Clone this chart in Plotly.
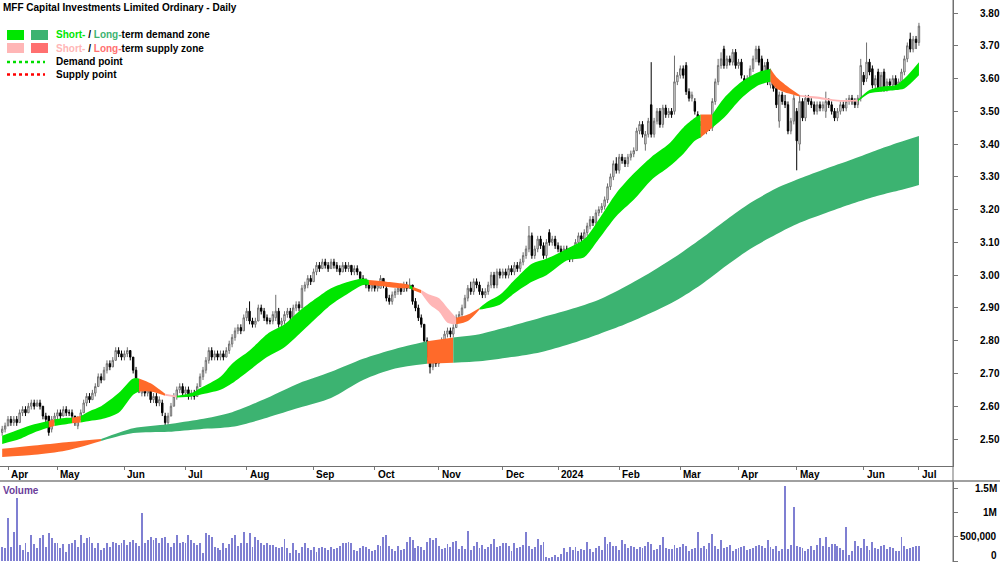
import pandas as pd
import plotly.graph_objects as go

# ---------------- trading calendar ----------------
holidays = ["2023-04-07", "2023-04-10", "2023-04-25", "2023-06-12", "2023-12-25",
            "2023-12-26", "2024-01-01", "2024-01-26", "2024-03-29", "2024-04-01",
            "2024-04-25", "2024-06-10"]
dates = pd.bdate_range("2023-03-30", "2024-07-01")
dates = dates[~dates.isin(pd.to_datetime(holidays))]
n = len(dates)
idx = list(range(n))

month_labels = ["Apr", "May", "Jun", "Jul", "Aug", "Sep", "Oct", "Nov", "Dec",
                "2024", "Feb", "Mar", "Apr", "May", "Jun", "Jul"]
month_idx = [k for k in range(1, n) if dates[k].month != dates[k - 1].month]

price_ticks = [2.5, 2.6, 2.7, 2.8, 2.9, 3.0, 3.1, 3.2, 3.3, 3.4, 3.5, 3.6, 3.7, 3.8]
vol_ticks = [0, 500000, 1000000, 1500000]
vol_tick_text = ["0", "500,000", "1M", "1.5M"]

# ---------------- OHLC ----------------
opens = [
 2.52,2.53,2.54,2.56,2.55,2.56,2.55,2.58,2.59,2.58, 2.60,2.61,2.60,2.61,2.60,2.57,2.57,2.53,2.56,2.57,
 2.58,2.57,2.59,2.58,2.58,2.57,2.54,2.56,2.58,2.61, 2.63,2.62,2.64,2.66,2.69,2.68,2.71,2.73,2.72,2.74,
 2.77,2.76,2.75,2.76,2.77,2.75,2.71,2.68,2.64,2.66, 2.64,2.65,2.62,2.63,2.61,2.61,2.57,2.55,2.57,2.60,
 2.63,2.65,2.66,2.64,2.65,2.63,2.64,2.63,2.66,2.69, 2.71,2.74,2.77,2.75,2.76,2.75,2.76,2.75,2.77,2.79,
 2.81,2.83,2.84,2.83,2.87,2.89,2.86,2.85,2.86,2.90, 2.89,2.87,2.86,2.86,2.87,2.89,2.85,2.86,2.88,2.89,
 2.87,2.90,2.91,2.90,2.96,2.97,2.99,2.98,3.01,3.03, 3.02,3.04,3.03,3.02,3.04,3.03,3.02,3.01,3.03,3.02,
 3.03,3.01,3.02,3.01,2.99,2.98,2.97,2.96,2.97,2.96, 2.96,2.99,2.96,2.93,2.92,2.94,2.95,2.96,2.95,2.97,
 2.96,2.97,2.92,2.90,2.87,2.85,2.80,2.75,2.72,2.74, 2.73,2.75,2.80,2.82,2.83,2.82,2.84,2.87,2.88,2.90,
 2.93,2.96,2.95,2.98,2.97,2.95,2.94,2.95,2.97,3.00, 2.97,3.01,3.00,3.01,3.00,3.02,3.01,3.03,3.02,3.04,
 3.06,3.08,3.12,3.06,3.08,3.11,3.09,3.06,3.13,3.10, 3.11,3.09,3.08,3.07,3.08,3.08,3.05,3.07,3.10,3.12,
 3.11,3.13,3.15,3.17,3.16,3.19,3.20,3.21,3.23,3.27, 3.30,3.34,3.32,3.36,3.35,3.34,3.36,3.37,3.38,3.44,
 3.46,3.40,3.43,3.52,3.43,3.47,3.50,3.46,3.51,3.49, 3.50,3.50,3.59,3.61,3.63,3.64,3.56,3.54,3.53,3.49,
 3.43,3.46,3.44,3.46,3.45,3.53,3.59,3.64,3.69,3.64, 3.66,3.65,3.68,3.64,3.65,3.60,3.57,3.60,3.63,3.66,
 3.69,3.66,3.62,3.65,3.58,3.60,3.57,3.47,3.55,3.53, 3.52,3.44,3.47,3.50,3.40,3.53,3.48,3.54,3.53,3.52,
 3.50,3.52,3.51,3.50,3.53,3.52,3.50,3.48,3.50,3.52, 3.51,3.53,3.54,3.53,3.52,3.54,3.61,3.60,3.65,3.63,
 3.58,3.62,3.57,3.62,3.57,3.59,3.58,3.60,3.58,3.59, 3.62,3.66,3.72,3.69,3.72,3.71]
highs = [
 2.54,2.55,2.57,2.57,2.57,2.57,2.59,2.60,2.60,2.61, 2.62,2.62,2.62,2.62,2.60,2.58,2.57,2.57,2.58,2.59,
 2.59,2.60,2.60,2.59,2.59,2.57,2.57,2.59,2.62,2.64, 2.64,2.65,2.67,2.70,2.70,2.72,2.74,2.74,2.75,2.78,
 2.78,2.77,2.77,2.78,2.77,2.75,2.72,2.68,2.67,2.66, 2.66,2.65,2.64,2.64,2.63,2.62,2.58,2.58,2.61,2.64,
 2.66,2.67,2.67,2.66,2.66,2.65,2.65,2.67,2.70,2.72, 2.75,2.78,2.78,2.77,2.77,2.77,2.77,2.78,2.80,2.82,
 2.84,2.85,2.85,2.88,2.90,2.92,2.87,2.87,2.91,2.91, 2.90,2.88,2.87,2.89,2.94,2.90,2.87,2.89,2.90,2.90,
 2.91,2.92,2.92,2.97,2.98,3.00,3.00,3.02,3.04,3.04, 3.05,3.05,3.04,3.05,3.05,3.04,3.03,3.04,3.04,3.04,
 3.03,3.03,3.03,3.01,3.00,2.99,2.98,2.98,2.98,2.98, 3.00,2.99,2.97,2.94,2.95,2.96,2.97,2.97,2.98,2.98,
 2.99,2.97,2.93,2.91,2.88,2.85,2.81,2.76,2.75,2.75, 2.76,2.81,2.83,2.84,2.84,2.85,2.88,2.89,2.91,2.94,
 2.97,2.98,2.99,2.99,2.98,2.96,2.96,2.98,3.01,3.01, 3.02,3.02,3.02,3.02,3.03,3.03,3.04,3.04,3.05,3.07,
 3.09,3.15,3.13,3.09,3.12,3.12,3.10,3.11,3.14,3.12, 3.12,3.10,3.09,3.09,3.09,3.08,3.08,3.11,3.13,3.13,
 3.14,3.16,3.18,3.18,3.20,3.21,3.22,3.24,3.28,3.31, 3.35,3.36,3.37,3.37,3.36,3.37,3.38,3.39,3.45,3.47,
 3.47,3.44,3.48,3.65,3.48,3.51,3.51,3.52,3.52,3.51, 3.51,3.67,3.62,3.64,3.64,3.65,3.57,3.56,3.54,3.50,
 3.47,3.47,3.48,3.48,3.54,3.60,3.66,3.68,3.70,3.67, 3.67,3.69,3.69,3.66,3.66,3.61,3.61,3.64,3.67,3.70,
 3.70,3.67,3.65,3.66,3.63,3.61,3.58,3.56,3.56,3.55, 3.53,3.48,3.55,3.51,3.55,3.54,3.55,3.55,3.54,3.53,
 3.53,3.53,3.53,3.56,3.54,3.53,3.51,3.51,3.53,3.53, 3.54,3.55,3.55,3.54,3.55,3.66,3.62,3.71,3.66,3.64,
 3.61,3.63,3.62,3.63,3.60,3.60,3.61,3.61,3.60,3.63, 3.67,3.71,3.74,3.73,3.73,3.77]
lows = [
 2.51,2.52,2.54,2.54,2.54,2.54,2.55,2.57,2.57,2.58, 2.59,2.59,2.60,2.59,2.56,2.55,2.51,2.52,2.55,2.56,
 2.56,2.57,2.57,2.57,2.56,2.54,2.53,2.56,2.58,2.60, 2.61,2.62,2.63,2.66,2.67,2.68,2.70,2.71,2.72,2.74,
 2.75,2.74,2.74,2.75,2.74,2.70,2.67,2.64,2.63,2.63, 2.63,2.61,2.61,2.60,2.60,2.57,2.54,2.54,2.57,2.60,
 2.62,2.64,2.63,2.63,2.62,2.62,2.62,2.63,2.66,2.68, 2.70,2.73,2.74,2.74,2.74,2.74,2.74,2.75,2.76,2.78,
 2.80,2.82,2.82,2.83,2.86,2.85,2.84,2.84,2.86,2.88, 2.86,2.85,2.85,2.85,2.86,2.84,2.84,2.85,2.87,2.86,
 2.87,2.89,2.89,2.90,2.95,2.96,2.97,2.98,3.00,3.01, 3.02,3.02,3.01,3.02,3.02,3.01,3.00,3.01,3.01,3.01,
 3.00,3.00,3.00,2.98,2.97,2.96,2.95,2.95,2.95,2.95, 2.96,2.96,2.92,2.91,2.91,2.93,2.94,2.94,2.95,2.95,
 2.96,2.91,2.89,2.86,2.84,2.79,2.74,2.70,2.71,2.72, 2.72,2.75,2.79,2.81,2.81,2.81,2.84,2.86,2.87,2.90,
 2.92,2.94,2.94,2.96,2.94,2.93,2.93,2.94,2.96,2.96, 2.96,2.99,2.99,2.99,2.99,3.00,3.00,3.01,3.01,3.03,
 3.05,3.07,3.05,3.05,3.07,3.08,3.05,3.05,3.09,3.09, 3.08,3.07,3.06,3.06,3.06,3.04,3.04,3.07,3.09,3.10,
 3.10,3.12,3.14,3.15,3.15,3.18,3.19,3.20,3.22,3.26, 3.29,3.31,3.31,3.34,3.33,3.33,3.35,3.36,3.38,3.43,
 3.42,3.38,3.42,3.42,3.42,3.46,3.45,3.45,3.48,3.48, 3.48,3.49,3.58,3.60,3.60,3.55,3.53,3.53,3.49,3.42,
 3.42,3.43,3.43,3.44,3.44,3.52,3.58,3.63,3.63,3.63, 3.64,3.64,3.63,3.63,3.60,3.56,3.56,3.59,3.62,3.65,
 3.64,3.61,3.61,3.58,3.57,3.56,3.51,3.45,3.52,3.51, 3.43,3.43,3.46,3.32,3.38,3.47,3.47,3.52,3.51,3.49,
 3.49,3.50,3.50,3.48,3.51,3.49,3.47,3.47,3.49,3.50, 3.50,3.52,3.52,3.51,3.51,3.53,3.58,3.59,3.61,3.57,
 3.57,3.56,3.56,3.56,3.56,3.57,3.57,3.57,3.57,3.58, 3.61,3.65,3.68,3.68,3.69,3.70]
closes = [
 2.53,2.54,2.56,2.55,2.56,2.55,2.58,2.59,2.58,2.60, 2.61,2.60,2.61,2.60,2.57,2.56,2.52,2.56,2.57,2.58,
 2.57,2.59,2.58,2.58,2.57,2.55,2.56,2.58,2.61,2.63, 2.62,2.64,2.66,2.69,2.68,2.71,2.73,2.72,2.74,2.77,
 2.76,2.75,2.76,2.77,2.75,2.71,2.68,2.65,2.66,2.64, 2.65,2.62,2.63,2.61,2.62,2.58,2.55,2.57,2.60,2.63,
 2.65,2.66,2.64,2.65,2.63,2.64,2.63,2.66,2.69,2.71, 2.74,2.77,2.75,2.76,2.75,2.76,2.75,2.77,2.79,2.81,
 2.83,2.84,2.83,2.87,2.89,2.86,2.85,2.86,2.90,2.89, 2.87,2.86,2.86,2.88,2.89,2.85,2.86,2.88,2.89,2.87,
 2.90,2.91,2.90,2.96,2.97,2.99,2.98,3.01,3.03,3.02, 3.04,3.03,3.02,3.04,3.03,3.02,3.01,3.03,3.02,3.03,
 3.01,3.02,3.01,2.99,2.98,2.97,2.96,2.97,2.96,2.97, 2.99,2.97,2.93,2.92,2.94,2.95,2.96,2.95,2.97,2.96,
 2.97,2.92,2.90,2.87,2.85,2.80,2.75,2.72,2.74,2.73, 2.75,2.80,2.82,2.83,2.82,2.84,2.87,2.88,2.90,2.93,
 2.96,2.95,2.98,2.97,2.95,2.94,2.95,2.97,3.00,2.97, 3.01,3.00,3.01,3.00,3.02,3.01,3.03,3.02,3.04,3.06,
 3.08,3.12,3.06,3.08,3.11,3.09,3.06,3.10,3.10,3.11, 3.09,3.08,3.07,3.08,3.07,3.05,3.07,3.10,3.12,3.11,
 3.13,3.15,3.17,3.16,3.19,3.20,3.21,3.23,3.27,3.30, 3.34,3.32,3.36,3.35,3.34,3.36,3.37,3.38,3.44,3.46,
 3.43,3.43,3.47,3.43,3.47,3.50,3.46,3.51,3.49,3.50, 3.49,3.59,3.61,3.63,3.61,3.56,3.54,3.55,3.50,3.43,
 3.46,3.44,3.47,3.45,3.53,3.59,3.64,3.66,3.64,3.66, 3.65,3.68,3.64,3.65,3.61,3.57,3.60,3.63,3.66,3.69,
 3.65,3.62,3.64,3.59,3.62,3.57,3.52,3.55,3.53,3.52, 3.44,3.47,3.54,3.41,3.53,3.48,3.54,3.53,3.52,3.50,
 3.52,3.51,3.52,3.53,3.52,3.50,3.48,3.50,3.52,3.51, 3.53,3.54,3.53,3.52,3.54,3.64,3.59,3.65,3.62,3.58,
 3.60,3.57,3.61,3.57,3.59,3.58,3.60,3.58,3.59,3.62, 3.66,3.70,3.69,3.72,3.71,3.76]

# ---------------- volume (thousands of shares) ----------------
volume_k = [
 295,261,880,295,605,1290,329,226,364,192, 535,350,261,466,535,295,583,466,364,364,
 261,343,192,343,364,432,295,535,377,466, 500,377,261,364,226,261,364,295,398,364,
 329,364,432,329,398,432,364,300,995,364, 432,500,432,466,364,466,500,364,295,364,
 535,364,398,364,535,432,364,329,364,158, 569,535,500,295,261,226,364,261,350,466,
 535,300,364,605,364,569,295,500,432,364, 329,364,329,329,295,261,295,446,261,158,
 364,226,158,295,364,261,226,295,192,261, 295,261,226,295,240,260,300,364,380,398,
 364,230,200,260,300,280,250,200,230,330, 300,500,535,300,250,200,300,220,250,400,
 500,430,260,300,280,230,400,466,430,466, 300,250,260,350,280,400,420,250,300,250,
 620,230,300,400,260,330,250,280,350,446, 280,300,380,364,300,200,364,260,280,320,
 590,300,250,280,446,330,398,80,60,90, 120,80,150,260,180,295,230,280,200,250,
 230,400,240,190,270,300,220,500,340,400, 300,300,220,430,350,260,300,280,250,280,
 260,300,400,350,230,250,320,500,270,250, 240,330,260,280,340,300,200,240,260,590,
 270,300,250,380,560,300,240,430,270,280, 330,200,250,260,280,300,220,240,270,300,
 320,300,260,430,280,240,300,200,240,1540, 250,320,1110,300,280,260,210,240,300,230,
 320,466,300,500,290,350,360,300,270,220, 690,130,200,420,300,260,450,300,230,400,
 270,240,300,330,240,290,260,200,210,500, 300,240,260,280,300,310]

# ---------------- zones (read at knots) ----------------
# long-term zone
lt_idx = [0, 11, 22, 34, 45, 57, 68, 79, 91, 102, 113, 124, 135, 146, 155, 164, 175, 185,
          195, 205, 214, 223, 232, 240, 249, 257, 266, 274, 283, 291, 300, 308, 315]
lt_upper = [2.470, 2.480, 2.490, 2.500, 2.533, 2.545, 2.560, 2.582, 2.625, 2.670, 2.705,
            2.745, 2.775, 2.798, 2.810, 2.820, 2.845, 2.870, 2.895, 2.925, 2.965, 3.010,
            3.060, 3.110, 3.170, 3.220, 3.265, 3.295, 3.325, 3.350, 3.380, 3.405, 3.425]
lt_lower = [2.445, 2.452, 2.465, 2.494, 2.518, 2.522, 2.530, 2.537, 2.565, 2.595, 2.625,
            2.680, 2.715, 2.730, 2.733, 2.737, 2.750, 2.765, 2.790, 2.820, 2.850, 2.885,
            2.925, 2.970, 3.030, 3.080, 3.125, 3.160, 3.190, 3.215, 3.240, 3.258, 3.275]
lt_zone = ["S", "S", "S", "D", "D", "D", "D", "D", "D", "D", "D", "D", "D", "S", "D", "D",
           "D", "D", "D", "D", "D", "D", "D", "D", "D", "D", "D", "D", "D", "D", "D", "D", "D"]

# short-term zone
st_idx = [0, 6, 11, 16, 18, 22, 24, 27, 30, 34, 40, 45, 47, 51, 55, 56, 60, 65, 68, 75, 79,
          85, 91, 97, 102, 108, 113, 119, 124, 126, 132, 137, 140, 141, 144, 147, 150, 153,
          156, 160, 164, 167, 171, 176, 182, 187, 194, 200, 205, 211, 217, 223, 229, 234,
          238, 240, 244, 248, 254, 260, 264, 266, 270, 274, 280, 287, 294, 298, 302, 307,
          310, 315]
st_upper = [2.510, 2.530, 2.545, 2.555, 2.560, 2.565, 2.565, 2.570, 2.585, 2.600, 2.640,
            2.685, 2.685, 2.670, 2.645, 2.638, 2.632, 2.640, 2.655, 2.690, 2.730, 2.770,
            2.820, 2.850, 2.890, 2.930, 2.960, 2.980, 2.990, 2.985, 2.980, 2.975, 2.970,
            2.965, 2.955, 2.940, 2.930, 2.900, 2.870, 2.880, 2.900, 2.920, 2.940, 2.985,
            3.035, 3.050, 3.080, 3.110, 3.170, 3.250, 3.310, 3.360, 3.400, 3.450, 3.480,
            3.490, 3.490, 3.540, 3.590, 3.620, 3.630, 3.605, 3.575, 3.550, 3.545, 3.535,
            3.535, 3.565, 3.575, 3.580, 3.600, 3.650]
st_lower = [2.485, 2.500, 2.520, 2.535, 2.540, 2.545, 2.548, 2.550, 2.555, 2.560, 2.580,
            2.635, 2.645, 2.645, 2.635, 2.632, 2.627, 2.630, 2.635, 2.650, 2.670, 2.710,
            2.750, 2.780, 2.820, 2.870, 2.910, 2.945, 2.970, 2.970, 2.965, 2.960, 2.960,
            2.955, 2.945, 2.910, 2.890, 2.855, 2.850, 2.860, 2.895, 2.900, 2.910, 2.945,
            2.980, 3.000, 3.045, 3.055, 3.110, 3.180, 3.230, 3.290, 3.330, 3.370, 3.410,
            3.420, 3.450, 3.480, 3.540, 3.580, 3.590, 3.570, 3.555, 3.545, 3.538, 3.530,
            3.530, 3.555, 3.560, 3.565, 3.570, 3.610]
st_zone = ["D", "D", "D", "S", "D", "D", "S", "D", "D", "D", "D", "D", "S", "S", "S", "W",
           "D", "D", "D", "D", "D", "D", "D", "D", "D", "D", "D", "D", "D", "S", "S", "S",
           "D", "S", "W", "W", "W", "W", "S", "S", "D", "D", "D", "D", "D", "D", "D", "D",
           "D", "D", "D", "D", "D", "D", "D", "S", "D", "D", "D", "D", "S", "S", "S", "W",
           "W", "W", "D", "D", "D", "D", "D", "D"]

# ---------------- styling ----------------
FONT = "Liberation Sans, Arial, sans-serif"
C_ST_DEMAND = "#00E600"
C_LT_DEMAND = "#3CB371"
C_SUPPLY = "#FF6A2A"
C_WEAK = "#FFB6B6"
C_LT_SUPPLY_LEG = "#FF7070"
W, H = 1000, 562
R_MARGIN = 47
PW = W - R_MARGIN

zone_colors_st = {"D": C_ST_DEMAND, "S": C_SUPPLY, "W": C_WEAK}
zone_colors_lt = {"D": C_LT_DEMAND, "S": C_SUPPLY}

fig = go.Figure()


def runs(zones):
    out, s = [], 0
    for k in range(1, len(zones)):
        if zones[k] != zones[s]:
            out.append((s, k, zones[s]))
            s = k
    if s < len(zones) - 1:
        out.append((s, len(zones) - 1, zones[s]))
    return out


def add_band(kx, up, lo, zones, cmap):
    for s, e, z in runs(zones):
        xs = kx[s:e + 1]
        fig.add_trace(go.Scatter(x=xs, y=lo[s:e + 1], mode="lines",
                                 line=dict(width=0, shape="spline", smoothing=0.8),
                                 hoverinfo="skip", showlegend=False,
                                 xaxis="x", yaxis="y"))
        fig.add_trace(go.Scatter(x=xs, y=up[s:e + 1], mode="lines",
                                 line=dict(width=0, shape="spline", smoothing=0.8),
                                 fill="tonexty", fillcolor=cmap[z],
                                 hoverinfo="skip", showlegend=False,
                                 xaxis="x", yaxis="y"))


add_band(lt_idx, lt_upper, lt_lower, lt_zone, zone_colors_lt)
add_band(st_idx, st_upper, st_lower, st_zone, zone_colors_st)

fig.add_trace(go.Candlestick(
    x=idx, open=opens, high=highs, low=lows, close=closes,
    increasing=dict(line=dict(color="#6E6E6E", width=1), fillcolor="#FFFFFF"),
    decreasing=dict(line=dict(color="#000000", width=1), fillcolor="#000000"),
    whiskerwidth=0, showlegend=False, xaxis="x", yaxis="y"))

fig.add_trace(go.Bar(
    x=idx, y=[v * 1000 for v in volume_k], width=0.32,
    marker=dict(color="#7F7FD2", line=dict(width=0)),
    showlegend=False, xaxis="x2", yaxis="y2"))

# ---------------- layout ----------------
x_range = [-0.75, 326.7]
price_range = [2.4176, 3.8397]
vol_range = [-20576, 1625500]
price_dom = [1 - 466 / H, 1]
vol_dom = [0, (H - 482) / H]

fig.update_layout(
    width=W, height=H,
    margin=dict(l=0, r=R_MARGIN, t=0, b=0, pad=0),
    paper_bgcolor="white", plot_bgcolor="white",
    font=dict(family=FONT, size=10, color="black"),
    bargap=0,
    xaxis=dict(domain=[0, 1], range=x_range, anchor="y", showgrid=False, zeroline=False,
               rangeslider=dict(visible=False), tickvals=month_idx, showticklabels=False,
               ticks="outside", ticklen=3, tickcolor="#777777",
               showline=True, linecolor="#707070", linewidth=1),
    xaxis2=dict(domain=[0, 1], range=x_range, anchor="y2", matches="x", showgrid=False,
                zeroline=False, showticklabels=False, ticks="", showline=False),
    yaxis=dict(domain=price_dom, range=price_range, side="right", showgrid=False,
               zeroline=False, tickvals=price_ticks,
               ticktext=[f"{v:.2f}" for v in price_ticks],
               ticks="outside", ticklen=4, tickcolor="#777777", ticklabelstandoff=20,
               tickfont=dict(family=FONT, size=10, color="black", weight="bold"),
               showline=True, linecolor="#707070", linewidth=1),
    yaxis2=dict(domain=vol_dom, range=vol_range, side="right", showgrid=False,
                zeroline=False, tickvals=vol_ticks, showticklabels=False,
                ticks="outside", ticklen=4, tickcolor="#777777",
                showline=True, linecolor="#707070", linewidth=1),
)

shapes = []
# separator under the date labels
shapes.append(dict(type="line", xref="paper", yref="paper", x0=0, x1=W / PW,
                   y0=1 - 481 / H, y1=1 - 481 / H, line=dict(color="#A0A0A0", width=2)))
# right axis through the date band
shapes.append(dict(type="line", xref="paper", yref="paper", x0=1, x1=1,
                   y0=0, y1=1, line=dict(color="#707070", width=1)))


def px_x(p):
    return p / PW


def px_y(p):
    return 1 - p / H


# legend swatches
shapes += [
    dict(type="rect", xref="paper", yref="paper", x0=px_x(7), x1=px_x(24), y0=px_y(40), y1=px_y(30),
         fillcolor=C_ST_DEMAND, line=dict(width=0)),
    dict(type="rect", xref="paper", yref="paper", x0=px_x(31), x1=px_x(48), y0=px_y(40), y1=px_y(30),
         fillcolor=C_LT_DEMAND, line=dict(width=0)),
    dict(type="rect", xref="paper", yref="paper", x0=px_x(7), x1=px_x(24), y0=px_y(53), y1=px_y(43),
         fillcolor=C_WEAK, line=dict(width=0)),
    dict(type="rect", xref="paper", yref="paper", x0=px_x(31), x1=px_x(48), y0=px_y(53), y1=px_y(43),
         fillcolor=C_LT_SUPPLY_LEG, line=dict(width=0)),
    dict(type="line", xref="paper", yref="paper", x0=px_x(7), x1=px_x(45), y0=px_y(62), y1=px_y(62),
         line=dict(color="#00DD00", width=2.5, dash="dot")),
    dict(type="line", xref="paper", yref="paper", x0=px_x(7), x1=px_x(45), y0=px_y(74.5), y1=px_y(74.5),
         line=dict(color="#FF0000", width=2.5, dash="dot")),
]
fig.update_layout(shapes=shapes)

ann = []


def add_text(text, xp, yp, anchor="left", color="black", size=10):
    ann.append(dict(text=text, xref="paper", yref="paper", x=xp, y=yp,
                    xanchor=anchor, yanchor="middle", showarrow=False,
                    font=dict(family=FONT, size=size, color=color)))


add_text("<b>MFF Capital Investments Limited Ordinary - Daily</b>", px_x(1), px_y(8))
add_text("<b><span style='color:%s'>Short-</span> / <span style='color:%s'>Long-</span>term demand zone</b>"
         % (C_ST_DEMAND, C_LT_DEMAND), px_x(54), px_y(35))
add_text("<b><span style='color:%s'>Short-</span> / <span style='color:%s'>Long-</span>term supply zone</b>"
         % (C_WEAK, C_LT_SUPPLY_LEG), px_x(54), px_y(48.5))
add_text("<b>Demand point</b>", px_x(54), px_y(62))
add_text("<b>Supply point</b>", px_x(54), px_y(74.5))
add_text("<b>Volume</b>", px_x(1), px_y(490), color="#6A3D9A")

# month labels (left-aligned just after each tick)
for k, lab in zip(month_idx, month_labels):
    ann.append(dict(text="<b>%s</b>" % lab, xref="x", yref="paper", x=k + 0.3, y=px_y(474.5),
                    xanchor="left", yanchor="middle", showarrow=False,
                    font=dict(family=FONT, size=10, color="black")))

# volume axis labels (right-aligned; the zero label is lifted to stay inside the page)
for v, t in zip(vol_ticks, vol_tick_text):
    ypix = min(561 - v / 1e6 * 48.6, 555)
    ann.append(dict(text="<b>%s</b>" % t, xref="paper", yref="paper", x=px_x(999), y=px_y(ypix),
                    xanchor="right", yanchor="middle", showarrow=False,
                    font=dict(family=FONT, size=10, color="black")))

fig.update_layout(annotations=ann)
fig.write_html("out.html")
